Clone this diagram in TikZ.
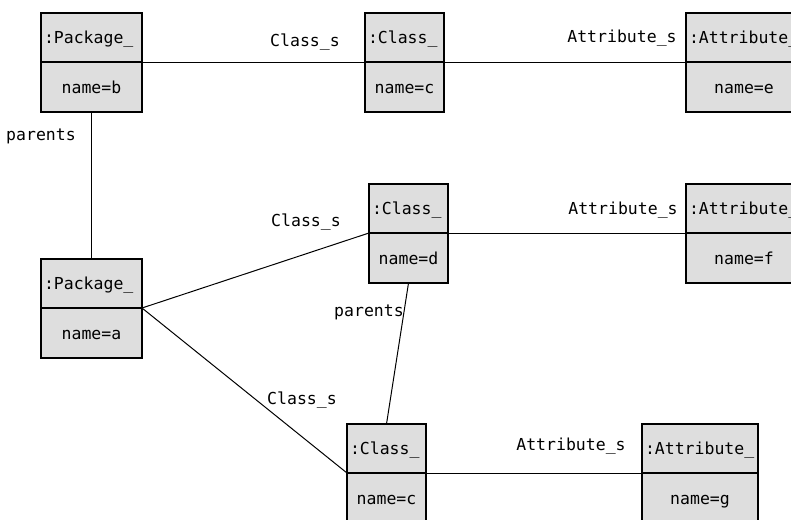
\documentclass[tikz,border=0pt]{standalone}
\usepackage{fontspec}
\setmainfont{DejaVu Sans Mono}
\usepackage{tikz}
\usetikzlibrary{positioning}
\definecolor{boxgray}{RGB}{222,222,222}

\tikzset{
  objhead/.style={draw, fill=boxgray, line width=1.2pt, outer sep=0pt,
    text width=#1, align=left, inner xsep=3pt, minimum height=49pt,
    text height=12pt, text depth=0pt, anchor=north west},
  objbody/.style={draw, fill=boxgray, line width=1.2pt, outer sep=0pt,
    text width=#1, align=center, inner xsep=3pt, minimum height=50pt,
    text height=12pt, text depth=0pt},
  assoc/.style={line width=1pt},
  rolelabel/.style={inner sep=0pt}
}

\begin{document}
\begin{tikzpicture}[x=1pt,y=-1pt,font=\fontsize{16.5}{18}\selectfont]
    \useasboundingbox (0,0) rectangle (791,519);
    \clip (0,0) rectangle (791,519);
    \fill[white] (0,0) rectangle (791,519);

    % Packages
    \node[objhead=95pt] (pkgb) at (41,13) {:Package\_};
    \node[objbody=95pt, below=0pt of pkgb] (pkgb-v) {name=b};
    \node[objhead=95pt] (pkga) at (41,259) {:Package\_};
    \node[objbody=95pt, below=0pt of pkga] (pkga-v) {name=a};

    % Classes
    \node[objhead=73pt] (clsc) at (365,13) {:Class\_};
    \node[objbody=73pt, below=0pt of clsc] (clsc-v) {name=c};
    \node[objhead=73pt] (clsd) at (369,184) {:Class\_};
    \node[objbody=73pt, below=0pt of clsd] (clsd-v) {name=d};
    \node[objhead=73pt] (clsc2) at (347,424) {:Class\_};
    \node[objbody=73pt, below=0pt of clsc2] (clsc2-v) {name=c};

    % Attributes
    \node[objhead=110pt] (atte) at (686,13) {:Attribute\_};
    \node[objbody=110pt, below=0pt of atte] (atte-v) {name=e};
    \node[objhead=110pt] (attf) at (686,184) {:Attribute\_};
    \node[objbody=110pt, below=0pt of attf] (attf-v) {name=f};
    \node[objhead=110pt] (attg) at (642,424) {:Attribute\_};
    \node[objbody=110pt, below=0pt of attg] (attg-v) {name=g};

    % Links
    \draw[assoc] (pkgb.south east) -- (clsc.south west);
    \draw[assoc] (clsc.south east) -- (atte.south west);
    \draw[assoc] (pkgb-v.south) -- (pkga.north);
    \draw[assoc] (pkga.south east) -- (clsd.south west);
    \draw[assoc] (pkga.south east) -- (clsc2.south west);
    \draw[assoc] (clsd-v.south) -- (clsc2.north);
    \draw[assoc] (clsd.south east) -- (attf.south west);
    \draw[assoc] (clsc2.south east) -- (attg.south west);

    % Role names
    \node[rolelabel] (cs-top) at (305,42) {Class\_s};
    \node[rolelabel] (as-top) at (622,38) {Attribute\_s};
    \node[rolelabel] (par-b) at (41,136) {parents};
    \node[rolelabel] (cs-d) at (306,222) {Class\_s};
    \node[rolelabel] (as-f) at (623,210) {Attribute\_s};
    \node[rolelabel] (par-d) at (369,312) {parents};
    \node[rolelabel] (cs-c) at (302,400) {Class\_s};
    \node[rolelabel] (as-g) at (571,446) {Attribute\_s};
\end{tikzpicture}
\end{document}
